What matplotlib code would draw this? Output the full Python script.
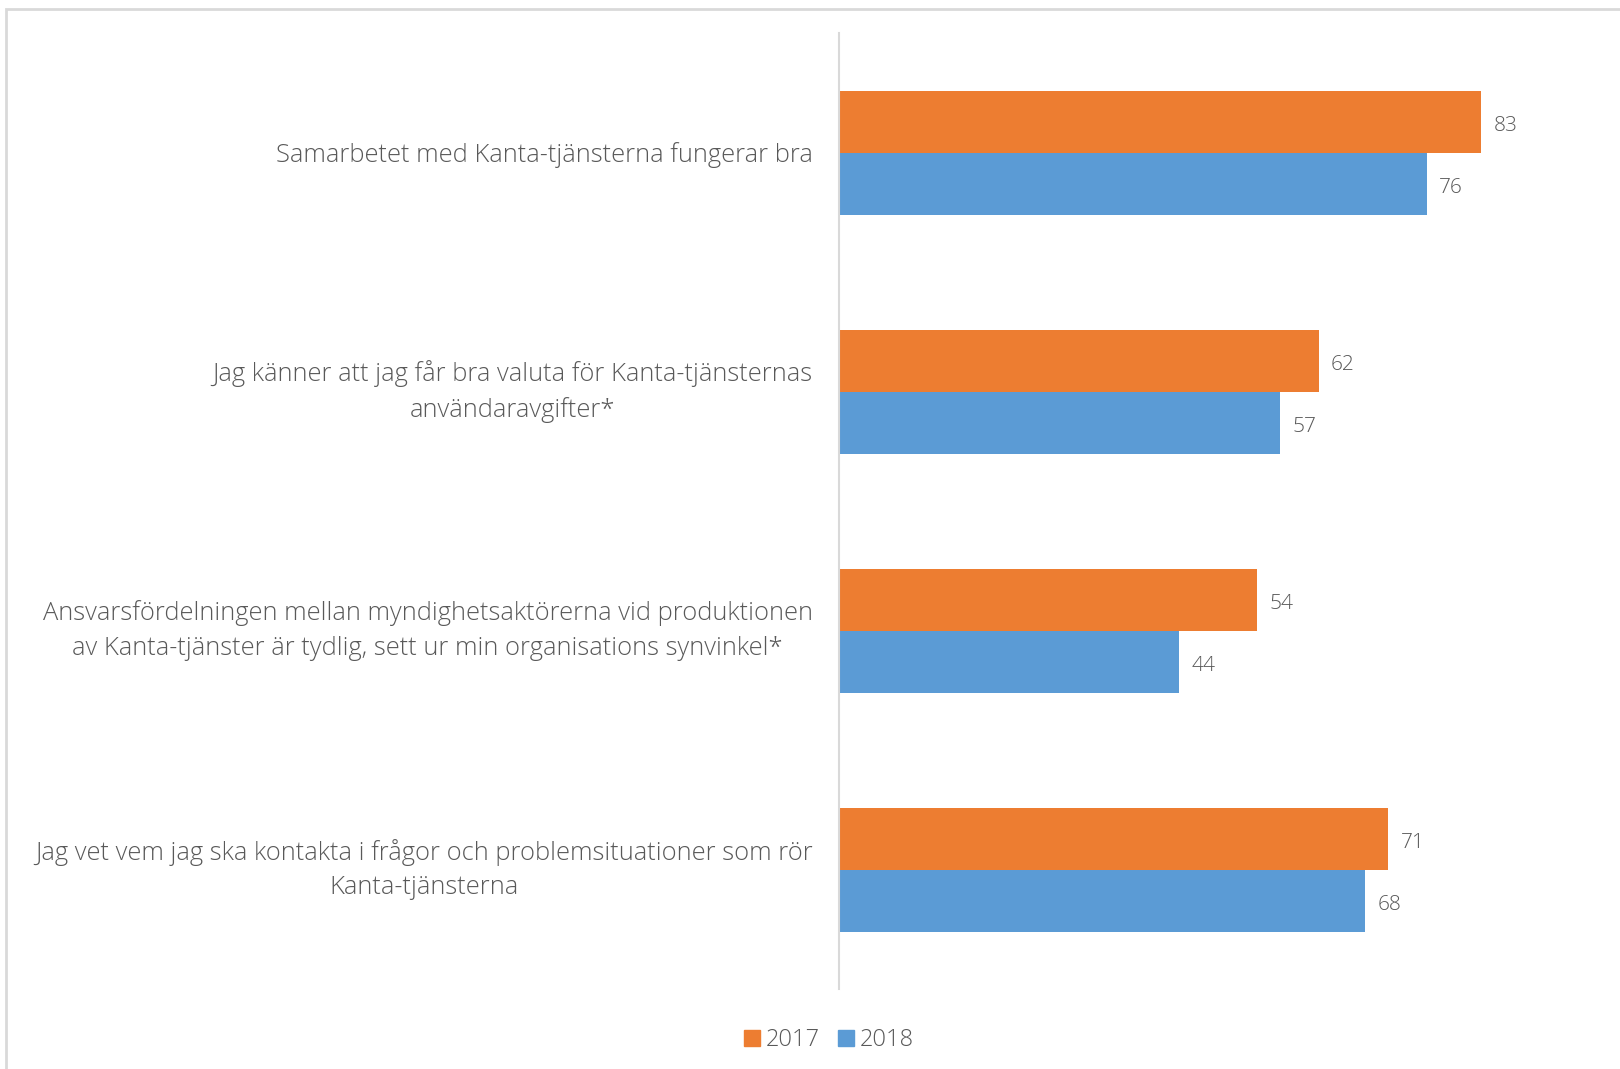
import matplotlib
matplotlib.use("Agg")
import matplotlib.pyplot as plt
from matplotlib.patches import Rectangle, Patch
import numpy as np

categories = [
    "Samarbetet med Kanta-tjänsterna fungerar bra",
    "Jag känner att jag får bra valuta för Kanta-tjänsternas\nanvändaravgifter*",
    "Ansvarsfördelningen mellan myndighetsaktörerna vid produktionen\nav Kanta-tjänster är tydlig, sett ur min organisations synvinkel*",
    "Jag vet vem jag ska kontakta i frågor och problemsituationer som rör\nKanta-tjänsterna",
]
series_names = ["2017", "2018"]
values_2017 = [83, 62, 54, 71]
values_2018 = [76, 57, 44, 68]

c2017 = "#ED7D31"
c2018 = "#5B9BD5"
text_color = "#595959"
grid_color = "#D9D9D9"

plt.rcParams['font.family'] = ['Open Sans', 'DejaVu Sans']

W, H = 1620, 1069
fig = plt.figure(figsize=(W / 100, H / 100), dpi=100)

# frame border
fig.patches.append(Rectangle((6 / W, -0.1), 1.2, 1 - 9 / H + 0.1, transform=fig.transFigure,
                             fill=False, edgecolor=grid_color, linewidth=2))

ax_left, ax_right = 839, 1612.5
ax_top, ax_bottom = 33, 989
ax = fig.add_axes([ax_left / W, (H - ax_bottom) / H, (ax_right - ax_left) / W, (ax_bottom - ax_top) / H])

n = len(categories)
y = np.arange(n)
bh = 124 / 239 / 2
ax.barh(y - bh / 2, values_2017, height=bh, color=c2017, label=series_names[0])
ax.barh(y + bh / 2, values_2018, height=bh, color=c2018, label=series_names[1])

ax.set_xlim(0, 100)
ax.set_ylim(n - 0.5, -0.5)

for i in range(n):
    ax.text(values_2017[i] + 1.6, y[i] - bh / 2 + 0.01, str(values_2017[i]), va="center_baseline", ha="left",
            fontsize=15, color=text_color, fontweight="light")
    ax.text(values_2018[i] + 1.6, y[i] + bh / 2 + 0.01, str(values_2018[i]), va="center_baseline", ha="left",
            fontsize=15, color=text_color, fontweight="light")

# category labels
for i, lab in enumerate(categories):
    va = "center" if "\n" in lab else "center_baseline"
    ax.annotate(lab, xy=(0, y[i]), xycoords=("axes fraction", "data"), xytext=(-19, 0),
                textcoords="offset points", ha="right", va=va, multialignment="center",
                fontsize=18.4, color=text_color, linespacing=1.52, fontweight="light",
                annotation_clip=False)

ax.set_yticks([])
ax.set_xticks([])
for s in ["top", "right", "bottom"]:
    ax.spines[s].set_visible(False)
ax.spines["left"].set_color(grid_color)
ax.spines["left"].set_linewidth(1.5)

handles = [Patch(color=c2017, label="2017"), Patch(color=c2018, label="2018")]
fig.legend(handles=handles, loc="center", bbox_to_anchor=(829 / W, (H - 1040) / H), ncol=2,
           frameon=False, labelcolor=text_color, handlelength=0.65, handleheight=0.65,
           handletextpad=0.25, columnspacing=0.8, prop={"size": 17, "weight": "light"})

fig.savefig("out.png", dpi=100)
